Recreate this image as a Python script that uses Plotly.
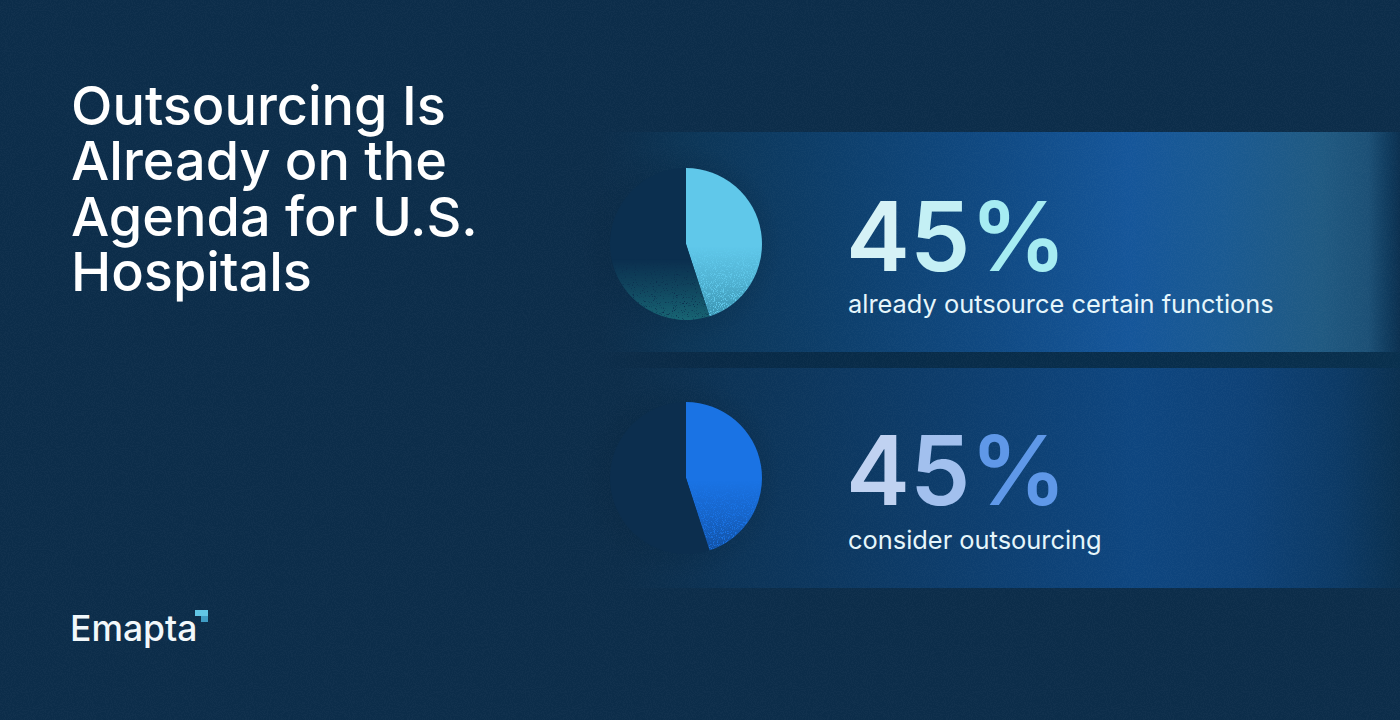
import base64
import math
import plotly.graph_objects as go

W = 1400
H = 720

# Daten
title_lines = ["Outsourcing Is", "Already on the", "Agenda for U.S.", "Hospitals"]
slice_labels = ["yes", "rest"]
values_outsource = [45, 55]
values_consider = [45, 55]
big_label = ["4", "5", "%"]
caption_outsource = "already outsource certain functions"
caption_consider = "consider outsourcing"
logo_text = "Emapta"

# Farben
bg_color = "#0c2d4a"
colors_outsource = ["#60c8ea", "#0b2f4f"]
colors_consider = ["#1a73e4", "#0c2e4e"]
digits_outsource = ["#d6f2f6", "#c4f0f5", "#a6ecf2"]
digits_consider = ["#c0d2f1", "#a2c0ee", "#5f98e8"]

FONT = "Inter"
CX = 686
R = 76
CY_TOP = 244
CY_BOTTOM = 478


def px_x(x):
    return x / W


def px_y(y):
    return 1 - y / H


def data_uri(body):
    svg = f'<svg xmlns="http://www.w3.org/2000/svg" width="{W}" height="{H}" viewBox="0 0 {W} {H}">{body}</svg>'
    return "data:image/svg+xml;base64," + base64.b64encode(svg.encode()).decode()


def stops(items):
    return "".join(f'<stop offset="{o}" stop-color="{c}" stop-opacity="{a}"/>' for o, c, a in items)


def wedge(cy, start_pct, end_pct):
    # Tortenstueck im Uhrzeigersinn von oben, passend zum Pie-Trace
    a0 = start_pct / 100 * 2 * math.pi
    a1 = end_pct / 100 * 2 * math.pi
    x0, y0 = CX + R * math.sin(a0), cy - R * math.cos(a0)
    x1, y1 = CX + R * math.sin(a1), cy - R * math.cos(a1)
    large = 1 if end_pct - start_pct > 50 else 0
    return f"M{CX},{cy} L{x0:.2f},{y0:.2f} A{R},{R} 0 {large} 1 {x1:.2f},{y1:.2f} Z"


def grain_color(name, r, g, b, gain, offset, freq=1.1):
    return (
        f'<filter id="{name}" x="0" y="0" width="100%" height="100%" color-interpolation-filters="sRGB">'
        f'<feTurbulence type="fractalNoise" baseFrequency="{freq}" numOctaves="2" seed="9"/>'
        f'<feColorMatrix values="0 0 0 0 {r}  0 0 0 0 {g}  0 0 0 0 {b}  0 0 0 {gain} {offset}"/>'
        '<feComposite in2="SourceGraphic" operator="in"/>'
        "</filter>"
    )


# Hintergrund mit den zwei Baendern
background = data_uri(
    "<defs>"
    + grain_color("grain", 1, 1, 1, 7, -3.2, 0.95)
    + '<linearGradient id="band1" x1="0" x2="1" y1="0" y2="0">'
    + stops([(0, "#0c3252", 0), (0.1, "#0c3657", 0.9), (0.3, "#0d3f6c", 1), (0.5, "#104a84", 1),
             (0.66, "#15569a", 1), (0.78, "#1a5a92", 1), (0.9, "#205a82", 1), (0.96, "#1c5076", 1),
             (0.985, "#0f3b5e", 1), (1, "#0b3050", 1)])
    + "</linearGradient>"
    + '<linearGradient id="band2" x1="0" x2="1" y1="0" y2="0">'
    + stops([(0, "#0c3252", 0), (0.14, "#0c3458", 0.9), (0.4, "#0d3c6a", 1), (0.66, "#0e4680", 1),
             (0.8, "#0e4278", 1), (0.92, "#0c3a66", 1), (1, "#0a3050", 1)])
    + "</linearGradient>"
    + '<linearGradient id="edge" x1="0" x2="1" y1="0" y2="0">'
    + stops([(0, "#07233c", 0), (0.2, "#072a47", 0.8), (1, "#08304e", 0.9)])
    + "</linearGradient>"
    + '<radialGradient id="shade"><stop offset="0.6" stop-color="#07233c" stop-opacity="0.3"/>'
    + '<stop offset="1" stop-color="#07233c" stop-opacity="0"/></radialGradient>'
    + "</defs>"
    + f'<rect x="0" y="0" width="{W}" height="{H}" fill="{bg_color}"/>'
    + '<rect x="600" y="132" width="800" height="220" fill="url(#band1)"/>'
    + '<rect x="600" y="352" width="800" height="16" fill="url(#edge)"/>'
    + '<rect x="620" y="368" width="780" height="220" fill="url(#band2)"/>'
    + f'<circle cx="{CX - 5}" cy="{CY_TOP}" r="100" fill="url(#shade)"/>'
    + f'<circle cx="{CX - 5}" cy="{CY_BOTTOM}" r="100" fill="url(#shade)"/>'
    + f'<rect x="0" y="0" width="{W}" height="{H}" fill="#ffffff" opacity="0.02" filter="url(#grain)"/>'
)


def pie_overlay(idx, cy, fade_big, alpha_big, fade_small, alpha_small, grain_big, grain_small):
    # Verlauf und Koernung auf den beiden Tortenstuecken
    y0, y1 = cy - R, cy + R
    return (
        f'<linearGradient id="a{idx}" gradientUnits="userSpaceOnUse" x1="0" x2="0" y1="{y0}" y2="{y1}">'
        + stops([(0, fade_big, 0), (0.52, fade_big, 0), (0.75, fade_big, alpha_big * 0.4), (1, fade_big, alpha_big)])
        + "</linearGradient>"
        + f'<linearGradient id="b{idx}" gradientUnits="userSpaceOnUse" x1="0" x2="0" y1="{y0}" y2="{y1}">'
        + stops([(0, fade_small, 0), (0.6, fade_small, 0), (0.8, fade_small, alpha_small * 0.45), (1, fade_small, alpha_small)])
        + "</linearGradient>"
        + f'<path d="{wedge(cy, 0, 45)}" fill="url(#a{idx})" filter="url(#{grain_big})"/>'
        + f'<path d="{wedge(cy, 45, 100)}" fill="url(#b{idx})" filter="url(#{grain_small})"/>'
    )


overlay = data_uri(
    "<defs>"
    + grain_color("graindark", 0.12, 0.42, 0.52, 6, -1.9)
    + grain_color("grainteal", 0.10, 0.42, 0.47, 5, -1.0)
    + grain_color("grainblue", 0.05, 0.22, 0.45, 6, -1.9)
    + "</defs>"
    + pie_overlay(1, CY_TOP, "#1f6f86", 0.6, "#1a6a78", 0.9, "graindark", "grainteal")
    + pie_overlay(2, CY_BOTTOM, "#0d3a70", 0.6, "#0c3055", 0, "grainblue", "grainblue")
)


def pie_trace(values, colors, cy, name):
    return go.Pie(
        labels=slice_labels,
        values=values,
        name=name,
        sort=False,
        direction="clockwise",
        rotation=0,
        textinfo="none",
        hoverinfo="skip",
        showlegend=False,
        automargin=False,
        marker=dict(colors=colors, line=dict(width=0)),
        domain=dict(
            x=[px_x(CX - R), px_x(CX + R)],
            y=[px_y(cy + R), px_y(cy - R)],
        ),
    )


fig = go.Figure()
fig.add_trace(pie_trace(values_outsource, colors_outsource, CY_TOP, "outsource"))
fig.add_trace(pie_trace(values_consider, colors_consider, CY_BOTTOM, "consider"))

annotations = []


def add_text(text, x, y, size, color, weight=400):
    annotations.append(dict(
        text=text, x=px_x(x), y=px_y(y), xref="paper", yref="paper",
        xanchor="left", yanchor="middle", showarrow=False, align="left",
        font=dict(family=FONT, size=size, color=color, weight=weight),
    ))


for i, line in enumerate(title_lines):
    add_text(line, 69, 105 + i * 55.5, 54, "#ffffff", 500)


def big_text(colors):
    return "".join(f'<span style="color:{c}">{d}</span>' for d, c in zip(big_label, colors))


add_text(big_text(digits_outsource), 844, 236, 96, digits_outsource[0], 600)
add_text(big_text(digits_consider), 844, 470, 96, digits_consider[0], 600)
add_text(caption_outsource, 846, 303, 25.4, "#e6f6fb")
add_text(caption_consider, 846, 539, 25.4, "#e6f6fb")
add_text(logo_text, 68, 628, 35.5, "#f2f8fb", 500)

# Logo-Ecke
logo_shapes = [
    dict(type="rect", xref="paper", yref="paper", x0=px_x(195), x1=px_x(208), y0=px_y(616), y1=px_y(610),
         fillcolor="#62c6e6", line_width=0, layer="above"),
    dict(type="rect", xref="paper", yref="paper", x0=px_x(201), x1=px_x(208), y0=px_y(622), y1=px_y(616),
         fillcolor="#3f9cc4", line_width=0, layer="above"),
]

fig.update_layout(
    width=W,
    height=H,
    margin=dict(l=0, r=0, t=0, b=0),
    paper_bgcolor=bg_color,
    plot_bgcolor=bg_color,
    showlegend=False,
    annotations=annotations,
    shapes=logo_shapes,
    images=[
        dict(source=background, xref="paper", yref="paper", x=0, y=1, sizex=1, sizey=1,
             xanchor="left", yanchor="top", sizing="stretch", layer="below"),
        dict(source=overlay, xref="paper", yref="paper", x=0, y=1, sizex=1, sizey=1,
             xanchor="left", yanchor="top", sizing="stretch", layer="above"),
    ],
)

fig.write_html(
    "out.html",
    config=dict(displayModeBar=False),
    post_script="document.body.style.margin='0';document.body.style.overflow='hidden';",
)
